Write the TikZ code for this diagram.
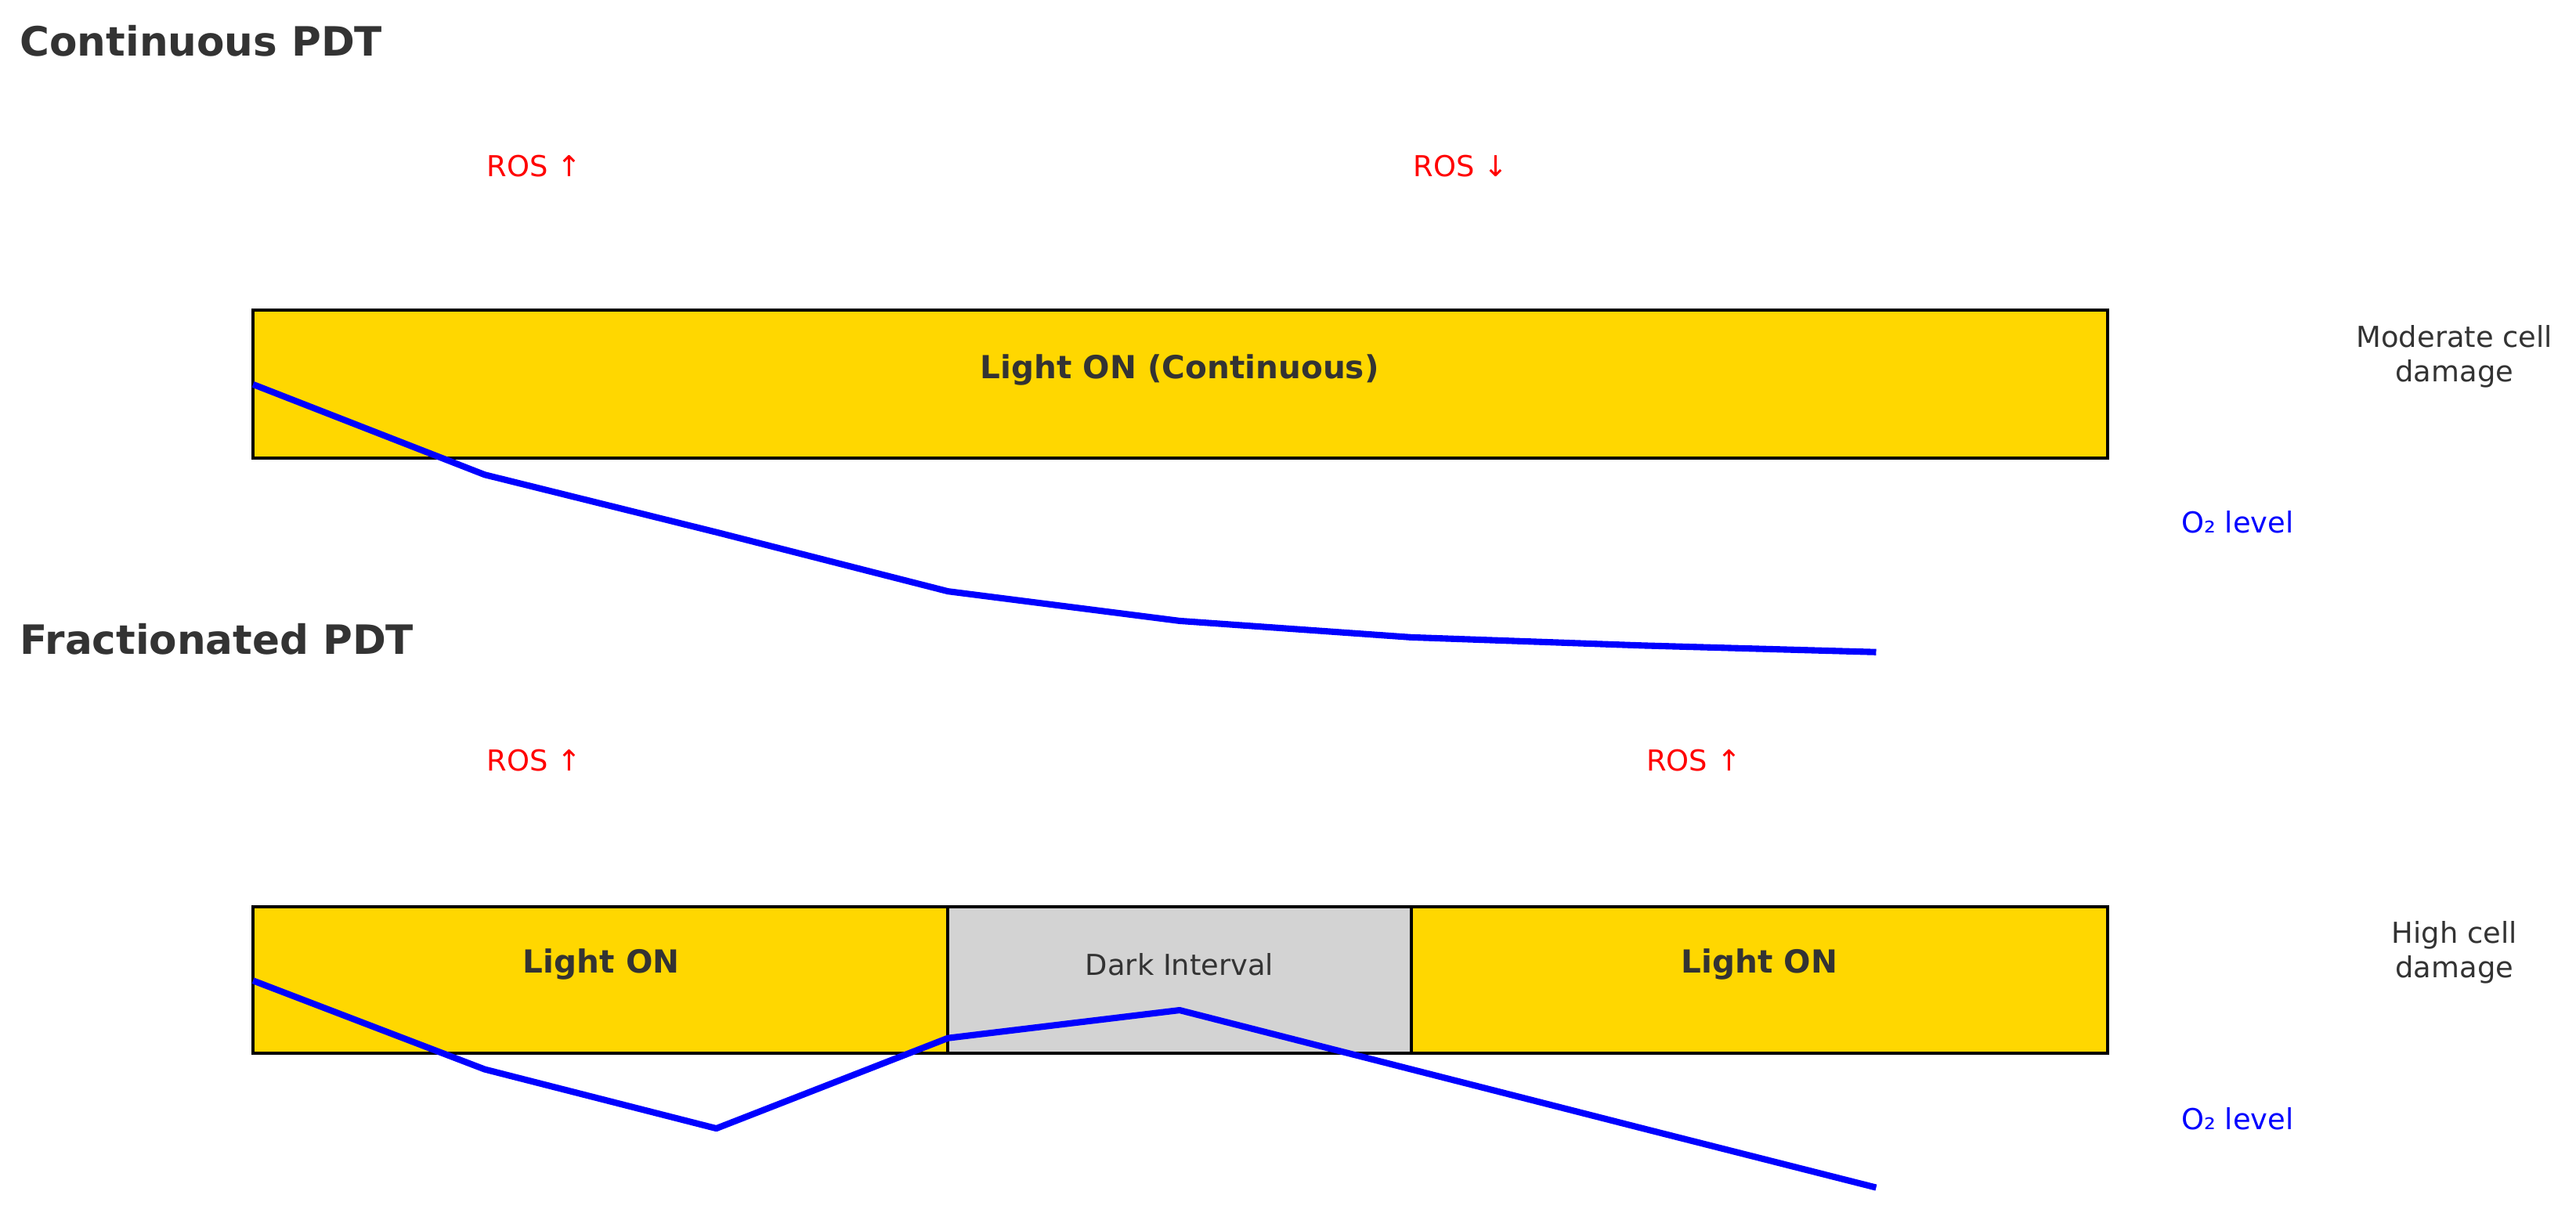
\documentclass[tikz,border=0pt]{standalone}
\usepackage{fontspec}
\setmainfont{DejaVu Sans}
\definecolor{gold}{HTML}{FFD700}
\definecolor{lgray}{HTML}{D3D3D3}
\definecolor{txt}{HTML}{333333}
\definecolor{ored}{HTML}{FF0000}
\definecolor{oblue}{HTML}{0000FF}
\begin{document}
\begin{tikzpicture}[x=0.02cm,y=-0.02cm,
  title/.style={anchor=west,font=\fontsize{14}{16}\selectfont\bfseries,text=txt},
  ros/.style={text=ored,font=\fontsize{10}{12}\selectfont},
  box/.style={draw=black,line width=1.1pt},
  blab/.style={font=\fontsize{11}{13}\selectfont\bfseries,text=txt},
  side/.style={align=center,text=txt,font=\fontsize{10}{12}\selectfont},
  o2/.style={text=oblue,font=\fontsize{10}{12}\selectfont},
  curve/.style={oblue,line width=2.2pt,line join=round}]
\useasboundingbox (0,0) rectangle (1568,742.3);
\node[title] (t1) at (6,25) {Continuous PDT};
\node[title] (t2) at (6,389) {Fractionated PDT};
\node[ros] (r1) at (325,101) {ROS ↑};
\node[ros] (r2) at (889,101) {ROS ↓};
\node[ros] (r3) at (325,463) {ROS ↑};
\node[ros] (r4) at (1031,463) {ROS ↑};
\filldraw[box,fill=gold] (154,189) rectangle (1283,279);
\node[blab] (b1) at (718,225) {Light ON (Continuous)};
\filldraw[box,fill=gold] (154,552) rectangle (577,641);
\filldraw[box,fill=lgray] (577,552) rectangle (859,641);
\filldraw[box,fill=gold] (859,552) rectangle (1283,641);
\node[blab] (b2) at (366,587) {Light ON};
\node[side] (b3) at (718,587) {Dark Interval};
\node[blab] (b4) at (1071,587) {Light ON};
\node[side] (s1) at (1494,217) {Moderate cell\\damage};
\node[side] (s2) at (1494,580) {High cell\\damage};
\node[o2] (o1) at (1362,318) {O₂ level};
\node[o2] (o2) at (1362,681) {O₂ level};
\draw[curve] (154,234)--(295,289)--(436,324)--(577,360)--(718,378)--(859,388)--(1000,393)--(1142,397);
\draw[curve] (154,597)--(295,651)--(436,687)--(577,632)--(718,615)--(859,651)--(1000,687)--(1142,723);
\end{tikzpicture}
\end{document}
